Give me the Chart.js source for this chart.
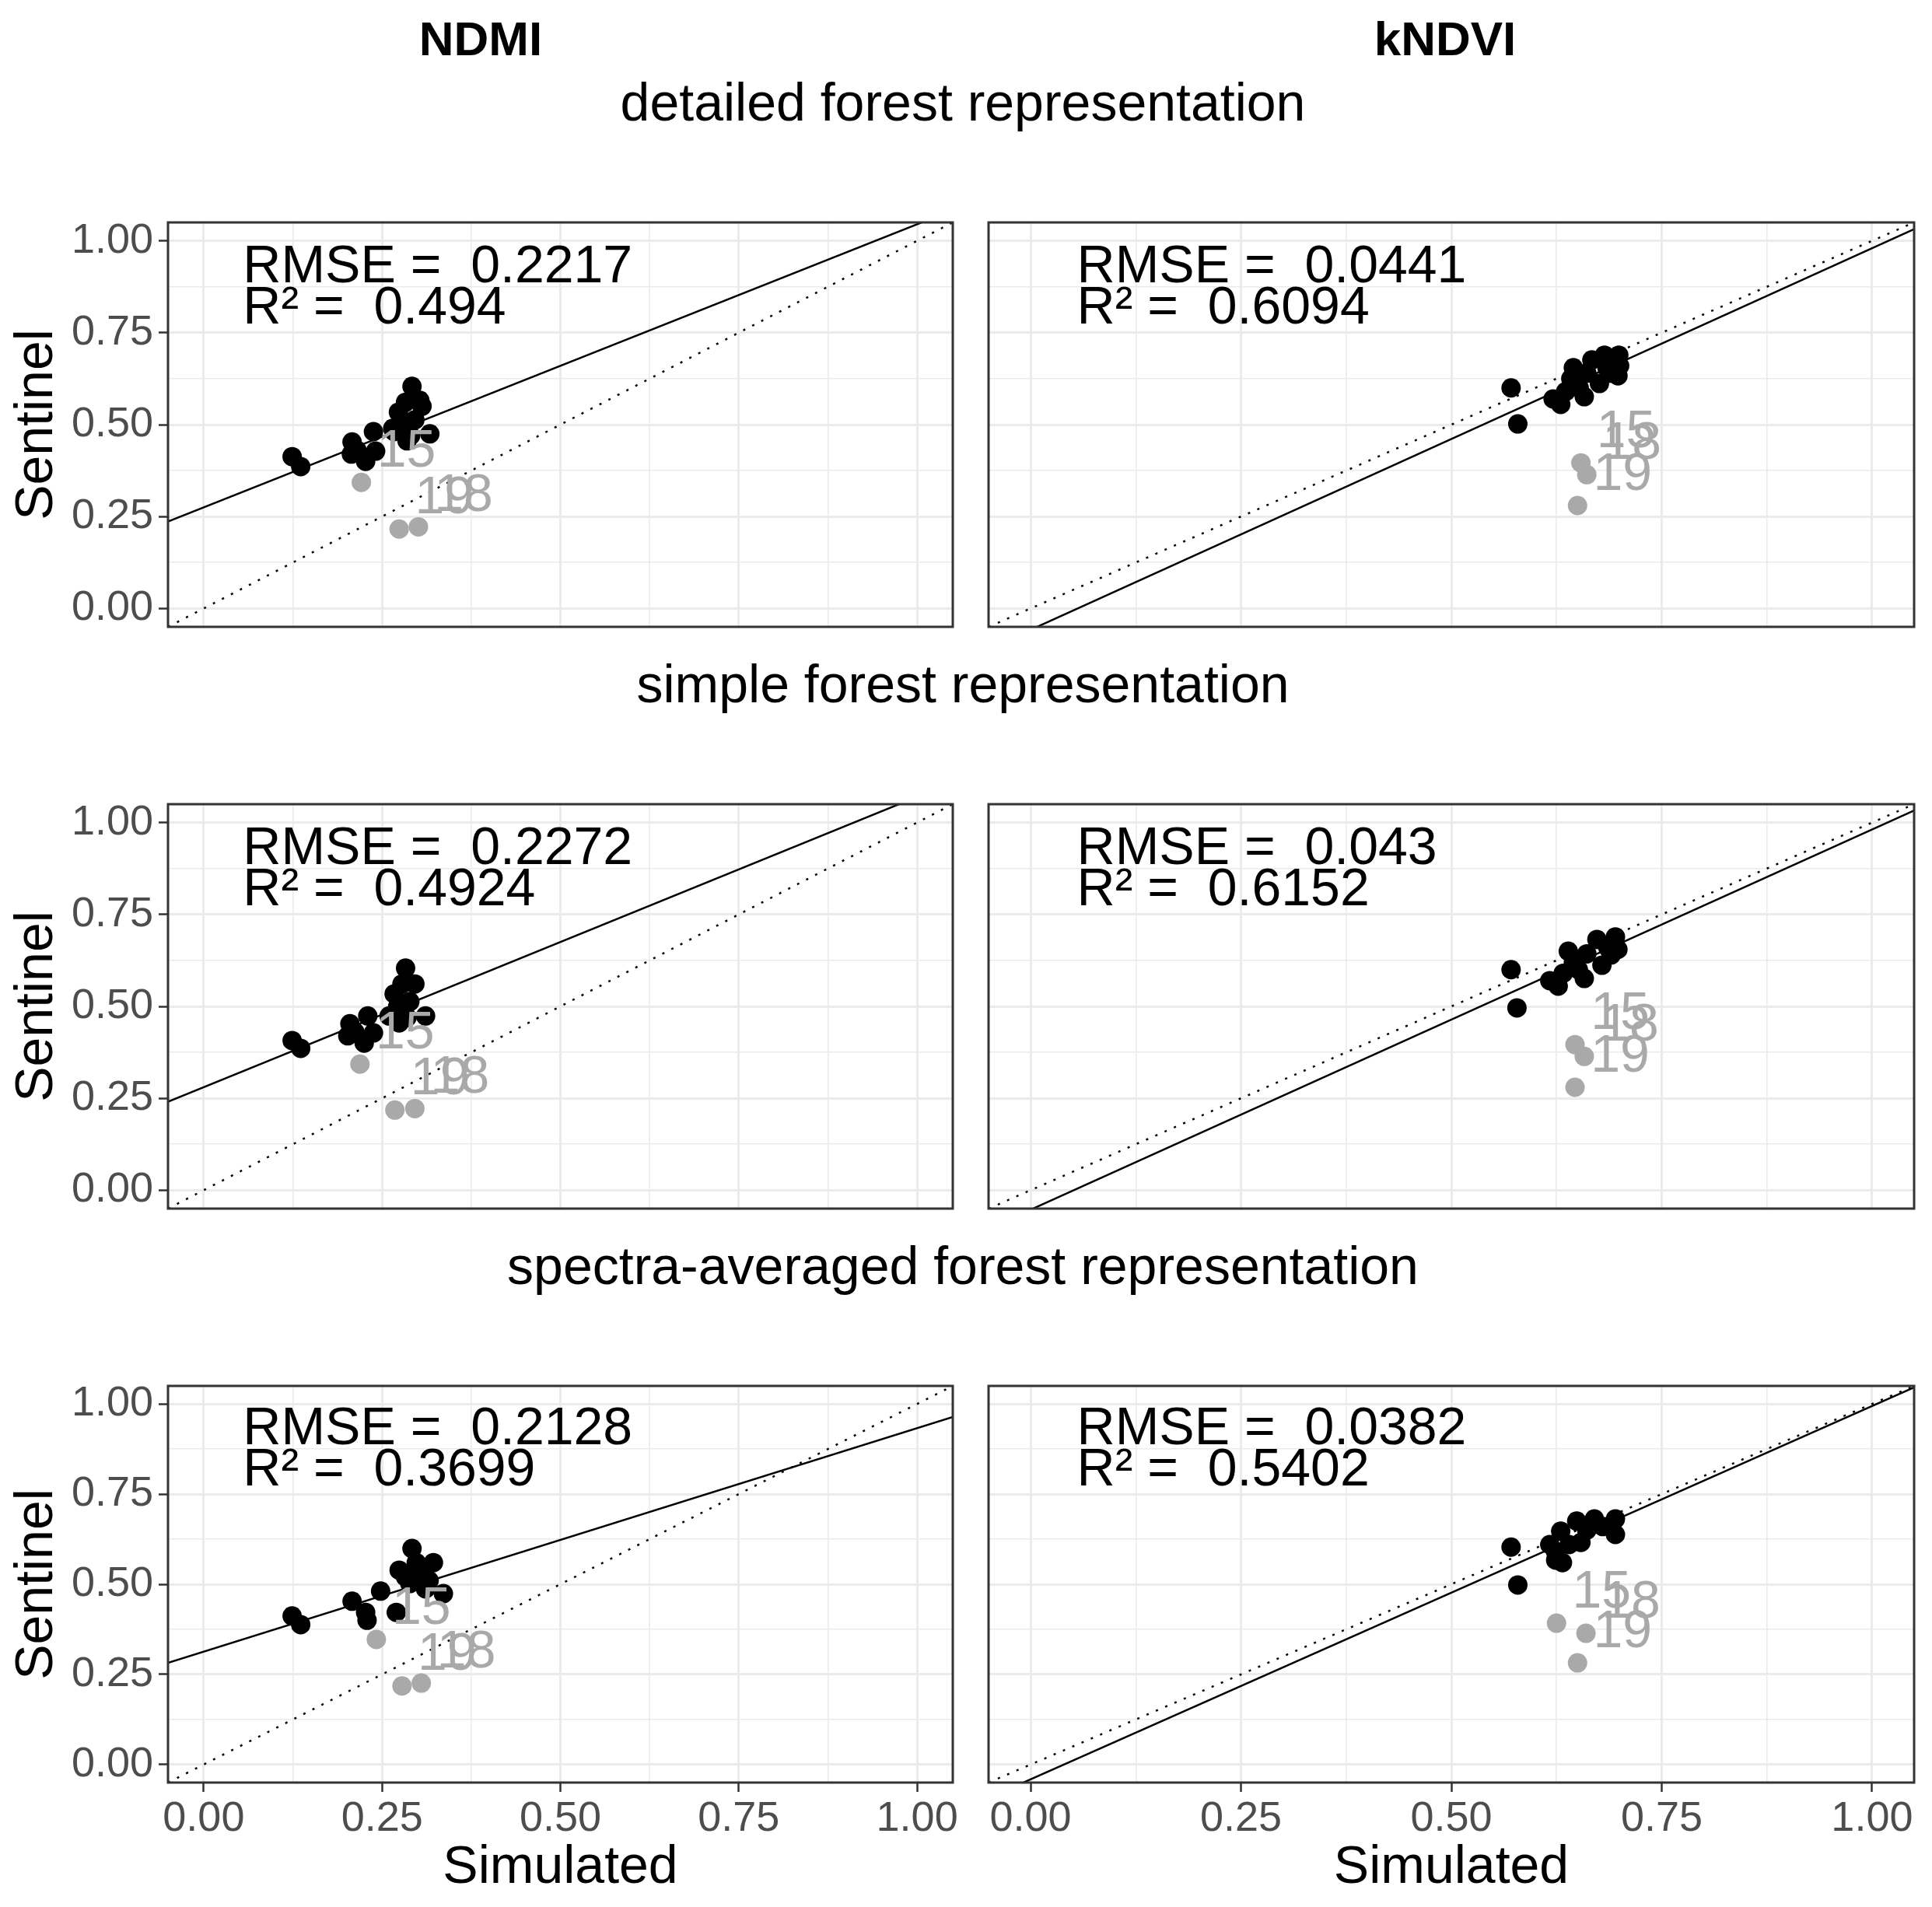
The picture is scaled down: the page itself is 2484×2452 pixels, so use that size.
<!DOCTYPE html>
<html>
<head>
<meta charset="utf-8">
<script src="https://cdn.jsdelivr.net/npm/chart.js@4.4.1/dist/chart.umd.min.js"></script>
<style>
  html, body { margin: 0; padding: 0; background: #fff; }
  body { width: 2484px; height: 2452px; position: relative; overflow: hidden;
         font-family: "Liberation Sans", Arial, sans-serif; }
  .box { position: absolute; }
  .txt { position: absolute; white-space: pre; color: #000; line-height: 1; transform: translateX(-50%); }
</style>
</head>
<body>
<script>
const columnTitles = ['NDMI', 'kNDVI'];
const rowTitles = ['detailed forest representation', 'simple forest representation', 'spectra-averaged forest representation'];
const tickValues = [0, 0.25, 0.5, 0.75, 1];
const tickLabels = ['0.00', '0.25', '0.50', '0.75', '1.00'];
const gridValues = [0, 0.125, 0.25, 0.375, 0.5, 0.625, 0.75, 0.875, 1];
const lineEnds = [-0.05, 1.05];

// NDMI - detailed
const ndmiDetX = [0.124, 0.136, 0.208, 0.207, 0.227, 0.238, 0.241, 0.267, 0.273, 0.283, 0.292, 0.303, 0.306, 0.285, 0.317, 0.296, 0.280, 0.265, 0.215, 0.290];
const ndmiDetY = [0.413, 0.386, 0.453, 0.420, 0.400, 0.481, 0.428, 0.481, 0.534, 0.561, 0.604, 0.566, 0.550, 0.456, 0.475, 0.513, 0.500, 0.490, 0.430, 0.470];
const ndmiDetOutX = [0.221, 0.274, 0.301];
const ndmiDetOutY = [0.343, 0.216, 0.222];
// NDMI - simple
const ndmiSimX = [0.124, 0.136, 0.205, 0.202, 0.225, 0.230, 0.238, 0.260, 0.267, 0.278, 0.283, 0.296, 0.274, 0.311, 0.289, 0.272, 0.212, 0.285];
const ndmiSimY = [0.407, 0.386, 0.453, 0.420, 0.400, 0.474, 0.428, 0.474, 0.534, 0.561, 0.604, 0.561, 0.455, 0.474, 0.513, 0.500, 0.430, 0.470];
const ndmiSimOutX = [0.219, 0.268, 0.296];
const ndmiSimOutY = [0.343, 0.218, 0.222];
// NDMI - spectra-averaged
const ndmiAvgX = [0.124, 0.136, 0.208, 0.227, 0.229, 0.248, 0.270, 0.274, 0.292, 0.322, 0.303, 0.289, 0.311, 0.336, 0.316, 0.298, 0.283, 0.308];
const ndmiAvgY = [0.412, 0.388, 0.453, 0.422, 0.400, 0.481, 0.422, 0.539, 0.599, 0.560, 0.530, 0.502, 0.487, 0.474, 0.510, 0.560, 0.520, 0.545];
const ndmiAvgOutX = [0.242, 0.278, 0.305];
const ndmiAvgOutY = [0.347, 0.218, 0.226];
const ndmiOutLabels = ['15', '19', '18'];

// kNDVI - detailed
const kndviDetX = [0.571, 0.579, 0.621, 0.630, 0.645, 0.642, 0.658, 0.667, 0.676, 0.682, 0.699, 0.698, 0.685, 0.661, 0.652, 0.700, 0.636, 0.690];
const kndviDetY = [0.600, 0.502, 0.570, 0.555, 0.655, 0.625, 0.576, 0.676, 0.612, 0.689, 0.689, 0.633, 0.655, 0.640, 0.600, 0.660, 0.590, 0.640];
const kndviDetOutX = [0.654, 0.661, 0.650];
const kndviDetOutY = [0.396, 0.364, 0.280];
// kNDVI - simple
const kndviSimX = [0.571, 0.578, 0.617, 0.627, 0.639, 0.645, 0.658, 0.673, 0.679, 0.695, 0.698, 0.686, 0.661, 0.651, 0.633, 0.690];
const kndviSimY = [0.600, 0.496, 0.570, 0.555, 0.650, 0.619, 0.576, 0.682, 0.612, 0.689, 0.655, 0.660, 0.643, 0.600, 0.590, 0.640];
const kndviSimOutX = [0.647, 0.658, 0.647];
const kndviSimOutY = [0.396, 0.364, 0.280];
// kNDVI - spectra-averaged
const kndviAvgX = [0.571, 0.579, 0.617, 0.624, 0.630, 0.649, 0.654, 0.670, 0.695, 0.695, 0.640, 0.661, 0.624, 0.632, 0.680];
const kndviAvgY = [0.603, 0.498, 0.610, 0.567, 0.647, 0.675, 0.616, 0.681, 0.681, 0.638, 0.610, 0.650, 0.590, 0.560, 0.660];
const kndviAvgOutX = [0.625, 0.660, 0.650];
const kndviAvgOutY = [0.392, 0.364, 0.282];
const kndviOutLabels = ['15', '18', '19'];

// fit statistics per row (detailed, simple, spectra-averaged)
const ndmiRmse = ['0.2217', '0.2272', '0.2128'];
const ndmiR2 = ['0.494', '0.4924', '0.3699'];
const ndmiIntercept = [0.275, 0.280, 0.313];
const ndmiSlope = [0.770, 0.790, 0.620];
const kndviRmse = ['0.0441', '0.043', '0.0382'];
const kndviR2 = ['0.6094', '0.6152', '0.5402'];
const kndviIntercept = [-0.058, -0.053, -0.041];
const kndviSlope = [1.038, 1.034, 1.035];

Chart.defaults.font.family = '"Liberation Sans", Arial, sans-serif';

function isMajor(v) {
  return tickValues.some(t => Math.abs(t - v) < 1e-9);
}

function tickText(v) {
  const i = tickValues.findIndex(t => Math.abs(t - v) < 1e-9);
  return i >= 0 ? tickLabels[i] : '';
}

function addText(str, cx, baseline, size, bold) {
  const d = document.createElement('div');
  d.className = 'txt';
  d.textContent = str;
  d.style.fontSize = size + 'px';
  d.style.fontWeight = bold ? 'bold' : 'normal';
  d.style.left = cx + 'px';
  d.style.top = (baseline - 0.8465 * size) + 'px';
  document.body.appendChild(d);
}

function noPad(s) {
  s.paddingTop = 0;
  s.paddingBottom = 0;
  s.paddingLeft = 0;
  s.paddingRight = 0;
}

const panelDecor = {
  id: 'panelDecor',
  afterDatasetsDraw(chart, args, opts) {
    const { ctx, chartArea: a } = chart;
    const x = chart.scales.x, y = chart.scales.y;
    ctx.save();
    ctx.beginPath();
    ctx.rect(a.left, a.top, a.width, a.height);
    ctx.clip();
    ctx.font = '68px "Liberation Sans", Arial, sans-serif';
    ctx.fillStyle = '#A9A9A9';
    ctx.textAlign = 'center';
    ctx.textBaseline = 'middle';
    opts.labels.forEach((t, i) => {
      ctx.fillText(t, x.getPixelForValue(opts.labelX[i]) + 58, y.getPixelForValue(opts.labelY[i]) - 39);
    });
    ctx.fillStyle = '#000';
    ctx.textAlign = 'left';
    ctx.textBaseline = 'alphabetic';
    ctx.fillText('RMSE =  ' + opts.rmse, x.getPixelForValue(0.055), y.getPixelForValue(0.888));
    ctx.fillText('R\u00b2 =  ' + opts.r2, x.getPixelForValue(0.055), y.getPixelForValue(0.775));
    ctx.restore();
  },
  afterDraw(chart) {
    const { ctx, chartArea: a } = chart;
    ctx.save();
    ctx.strokeStyle = '#333333';
    ctx.lineWidth = 3;
    ctx.strokeRect(a.left, a.top, a.width, a.height);
    ctx.restore();
  }
};

function makePanel(p) {
  const box = document.createElement('div');
  box.className = 'box';
  box.style.left = p.left + 'px';
  box.style.top = p.top + 'px';
  box.style.width = p.width + 'px';
  box.style.height = p.height + 'px';
  const canvas = document.createElement('canvas');
  box.appendChild(canvas);
  document.body.appendChild(box);

  const pts = p.x.map((v, i) => ({ x: v, y: p.y[i] }));
  const out = p.outX.map((v, i) => ({ x: v, y: p.outY[i] }));
  const fit = lineEnds.map(v => ({ x: v, y: p.a + p.b * v }));
  const oneToOne = lineEnds.map(v => ({ x: v, y: v }));

  const gridOpts = (showTicks) => ({
    color: '#EBEBEB',
    lineWidth: c => (c.tick && isMajor(c.tick.value)) ? 3 : 1.6,
    drawTicks: showTicks,
    tickLength: 12,
    tickWidth: 2.5,
    tickColor: c => (c.tick && isMajor(c.tick.value)) ? '#333333' : 'rgba(0,0,0,0)'
  });

  new Chart(canvas, {
    type: 'scatter',
    data: {
      datasets: [
        { data: pts, backgroundColor: '#000', pointRadius: 12.5, pointBorderWidth: 0, borderWidth: 0, order: 1 },
        { data: out, backgroundColor: '#A9A9A9', pointRadius: 12.5, pointBorderWidth: 0, borderWidth: 0, order: 1 },
        { data: fit, showLine: true, borderColor: '#000', borderWidth: 2.5, pointRadius: 0, clip: 0, order: 2 },
        { data: oneToOne, showLine: true, borderColor: '#000', borderWidth: 2.5, borderDash: [3, 10], pointRadius: 0, clip: 0, order: 2 }
      ]
    },
    options: {
      responsive: true,
      maintainAspectRatio: false,
      animation: false,
      events: [],
      layout: { padding: { top: 20, right: p.padRight, left: 0, bottom: 0 } },
      plugins: {
        legend: { display: false },
        tooltip: { enabled: false },
        panelDecor: { labels: p.labels, labelX: p.outX, labelY: p.outY, rmse: p.rmse, r2: p.r2 }
      },
      scales: {
        x: {
          type: 'linear', min: -0.05, max: 1.05,
          afterBuildTicks: s => { s.ticks = gridValues.map(v => ({ value: v })); },
          afterFit: s => { s.height = p.xAxisH; noPad(s); },
          grid: gridOpts(p.showX),
          border: { display: false },
          ticks: { display: p.showX, autoSkip: false, maxRotation: 0, padding: 3, color: '#4D4D4D',
                   font: { size: 54 }, callback: v => tickText(v) },
          title: { display: p.showX, text: 'Simulated', color: '#000', font: { size: 68 },
                   padding: { top: 0, bottom: 9 } }
        },
        y: {
          type: 'linear', min: -0.05, max: 1.05,
          afterBuildTicks: s => { s.ticks = gridValues.map(v => ({ value: v })); },
          afterFit: s => { s.width = p.yAxisW; noPad(s); },
          grid: gridOpts(p.showY),
          border: { display: false },
          ticks: { display: p.showY, autoSkip: false, padding: 7, color: '#4D4D4D',
                   font: { size: 54 }, callback: v => tickText(v) },
          title: { display: p.showY, text: 'Sentinel', color: '#000', font: { size: 68 },
                   padding: { top: 7, bottom: 0 } }
        }
      }
    },
    plugins: [panelDecor]
  });
}

// column headers and row titles
addText(columnTitles[0], 618, 71, 62, true);
addText(columnTitles[1], 1858, 71, 62, true);
addText(rowTitles[0], 1238, 155, 68, false);
addText(rowTitles[1], 1238, 903, 68, false);
addText(rowTitles[2], 1238, 1651, 68, false);

const ndmiData = [
  [ndmiDetX, ndmiDetY, ndmiDetOutX, ndmiDetOutY],
  [ndmiSimX, ndmiSimY, ndmiSimOutX, ndmiSimOutY],
  [ndmiAvgX, ndmiAvgY, ndmiAvgOutX, ndmiAvgOutY]
];
const kndviData = [
  [kndviDetX, kndviDetY, kndviDetOutX, kndviDetOutY],
  [kndviSimX, kndviSimY, kndviSimOutX, kndviSimOutY],
  [kndviAvgX, kndviAvgY, kndviAvgOutX, kndviAvgOutY]
];

const rowTops = [266, 1014, 1762];
const rowHeights = [560, 560, 690];
const xAxisHeights = [20, 20, 160];

for (let r = 0; r < 3; r++) {
  const last = r === 2;
  makePanel({
    left: 0, top: rowTops[r], width: 1240, height: rowHeights[r],
    yAxisW: 216, padRight: 15, xAxisH: xAxisHeights[r],
    showX: last, showY: true,
    x: ndmiData[r][0], y: ndmiData[r][1], outX: ndmiData[r][2], outY: ndmiData[r][3],
    labels: ndmiOutLabels, rmse: ndmiRmse[r], r2: ndmiR2[r],
    a: ndmiIntercept[r], b: ndmiSlope[r]
  });
  makePanel({
    left: 1240, top: rowTops[r], width: 1244, height: rowHeights[r],
    yAxisW: 31, padRight: 23, xAxisH: xAxisHeights[r],
    showX: last, showY: false,
    x: kndviData[r][0], y: kndviData[r][1], outX: kndviData[r][2], outY: kndviData[r][3],
    labels: kndviOutLabels, rmse: kndviRmse[r], r2: kndviR2[r],
    a: kndviIntercept[r], b: kndviSlope[r]
  });
}
</script>
</body>
</html>
